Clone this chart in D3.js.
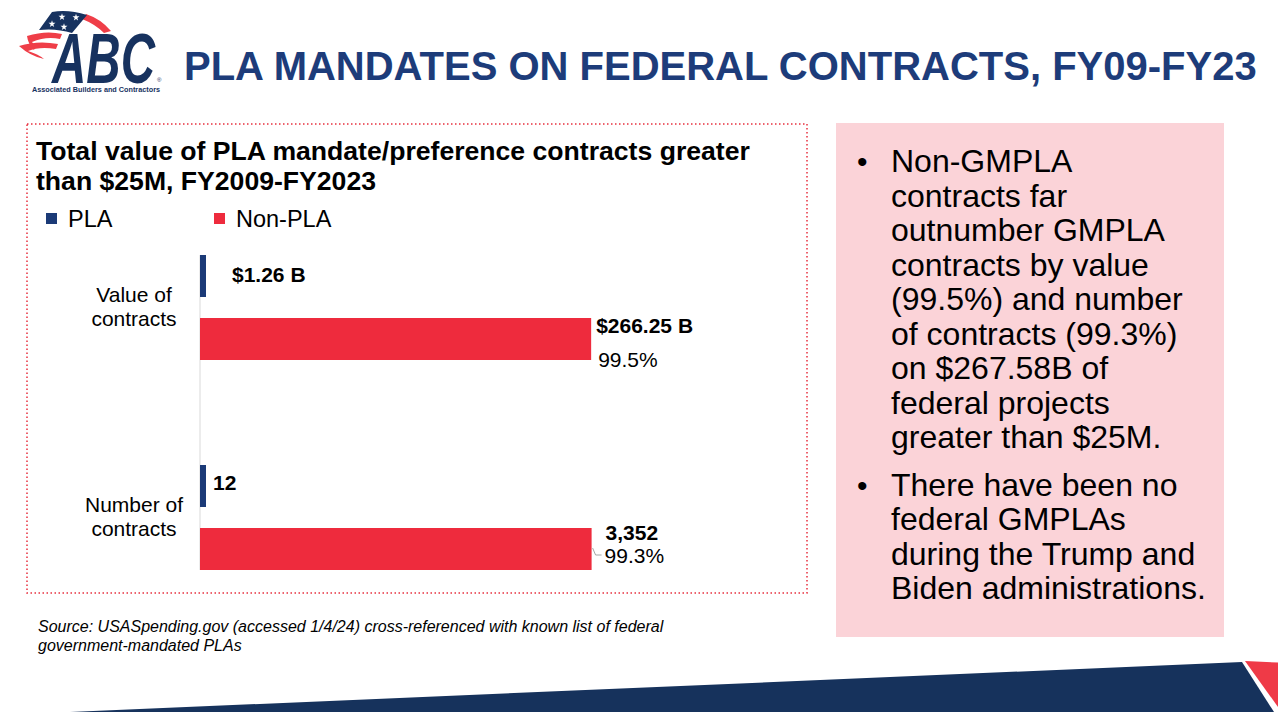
<!DOCTYPE html>
<html>
<head>
<meta charset="utf-8">
<script src="https://cdn.jsdelivr.net/npm/d3@7"></script>
<style>
  body { margin: 0; background: #fff; }
  svg { display: block; font-family: "Liberation Sans", Arial, sans-serif; }
</style>
</head>
<body>
<div id="slide"></div>
<script>
/* chart data */
var categories = ["Value of contracts", "Number of contracts"];
var categoryLines = [["Value of", "contracts"], ["Number of", "contracts"]];
var seriesNames = ["PLA", "Non-PLA"];
var plaValues = [1.26, 12];
var nonPlaValues = [266.25, 3352];
var plaLabels = ["$1.26 B", "12"];
var nonPlaLabels = ["$266.25 B", "3,352"];
var nonPlaShareLabels = ["99.5%", "99.3%"];

/* slide text */
var slideTitle = "PLA MANDATES ON FEDERAL CONTRACTS, FY09-FY23";
var chartTitle = ["Total value of PLA mandate/preference contracts greater", "than $25M, FY2009-FY2023"];
var bullets = [
    ["Non-GMPLA", "contracts far", "outnumber GMPLA", "contracts by value", "(99.5%) and number", "of contracts (99.3%)", "on $267.58B of", "federal projects", "greater than $25M."],
    ["There have been no", "federal GMPLAs", "during the Trump and", "Biden administrations."]
];
var sourceLines = ["Source: USASpending.gov (accessed 1/4/24) cross-referenced with known list of federal", "government-mandated PLAs"];

var width = 1278, height = 712;
var navy = "#1b3a77", red = "#ee2b3d", titleBlue = "#1d3c7a";
var colors = {"PLA": navy, "Non-PLA": red};

/* per-category label nudges (layout only) */
var labelNudge = [
    {plaDx: 26, plaDy: 6, valDx: 5, valDy: -6, shareDx: 7, shareDy: 28, leader: false},
    {plaDx: 7, plaDy: 4, valDx: 14, valDy: -9, shareDx: 13, shareDy: 14, leader: true}
];

var svg = d3.select("#slide").append("svg")
    .attr("width", width)
    .attr("height", height);

/* ---------- logo ---------- */
var logo = svg.append("g");
logo.append("path")
    .attr("d", "M86,14 Q101,19 111,31 L104,33 Q95,24 82,19 Z")
    .attr("fill", "#ef3e48");
logo.append("path")
    .attr("d", "M27,36 Q46,30 62,34 L60,39 Q46,36 32,42 Q36,46 34,50 Q28,44 27,36 Z")
    .attr("fill", "#ef3e48");
logo.append("path")
    .attr("d", "M19,46 Q38,40 58,44 L56,49 Q40,46 28,51 Q38,54 44,59 Q30,56 19,46 Z")
    .attr("fill", "#ef3e48");
logo.append("path")
    .attr("d", "M52,12 Q68,9 87,15 L72,33 Q56,28 39,30 Z")
    .attr("fill", "#17325f");
[[62, 17], [76, 17.5], [52, 24], [64, 27]].forEach(function(p) {
    logo.append("path")
        .attr("d", d3.symbol().type(d3.symbolStar).size(15)())
        .attr("transform", "translate(" + p[0] + "," + p[1] + ")")
        .attr("fill", "#fff");
});
logo.append("text")
    .attr("x", 52).attr("y", 83)
    .attr("font-size", 70)
    .attr("font-weight", "bold")
    .attr("font-style", "italic")
    .attr("textLength", 103)
    .attr("lengthAdjust", "spacingAndGlyphs")
    .attr("fill", "#17325f")
    .attr("stroke", "#fff")
    .attr("stroke-width", 1.5)
    .attr("paint-order", "stroke")
    .text("ABC");
logo.append("text")
    .attr("x", 157).attr("y", 82)
    .attr("font-size", 6)
    .attr("fill", "#17325f")
    .text("®");
logo.append("text")
    .attr("x", 32).attr("y", 91.5)
    .attr("font-size", 8)
    .attr("font-weight", "bold")
    .attr("textLength", 128)
    .attr("lengthAdjust", "spacingAndGlyphs")
    .attr("fill", "#17325f")
    .text("Associated Builders and Contractors");

/* ---------- slide title ---------- */
svg.append("text")
    .attr("x", 184).attr("y", 80)
    .attr("font-size", 40)
    .attr("font-weight", "bold")
    .attr("fill", titleBlue)
    .text(slideTitle);

/* ---------- chart frame ---------- */
svg.append("rect")
    .attr("x", 27).attr("y", 124)
    .attr("width", 780).attr("height", 469)
    .attr("fill", "none")
    .attr("stroke", "#e8303f")
    .attr("stroke-width", 1.5)
    .attr("stroke-dasharray", "1.5,2.5");

svg.append("g").selectAll("text")
    .data(chartTitle)
    .enter().append("text")
    .attr("x", 36)
    .attr("y", function(d, i) { return 160 + i * 30; })
    .attr("font-size", 26.6)
    .attr("font-weight", "bold")
    .attr("fill", "#000")
    .text(function(d) { return d; });

/* legend */
var legendX = [46, 214];
var legend = svg.append("g").selectAll("g")
    .data(seriesNames)
    .enter().append("g")
    .attr("transform", function(d, i) { return "translate(" + legendX[i] + ",213)"; });
legend.append("rect")
    .attr("width", 11).attr("height", 11)
    .attr("fill", function(d) { return colors[d]; });
legend.append("text")
    .attr("x", 22).attr("y", 14)
    .attr("font-size", 23.5)
    .attr("fill", "#000")
    .text(function(d) { return d; });

/* ---------- bar chart ---------- */
var rows = categories.map(function(c, i) {
    var total = plaValues[i] + nonPlaValues[i];
    return {
        category: c,
        lines: categoryLines[i],
        bars: [
            {series: "PLA", share: plaValues[i] / total, label: plaLabels[i]},
            {series: "Non-PLA", share: nonPlaValues[i] / total, label: nonPlaLabels[i], shareLabel: nonPlaShareLabels[i]}
        ],
        nudge: labelNudge[i]
    };
});

var x = d3.scaleLinear().domain([0, 1]).range([200, 593]);
var y = d3.scaleBand().domain(categories).range([202.5, 622.5]);
var yInner = d3.scaleBand().domain(seriesNames)
    .range([0, y.bandwidth()])
    .paddingInner(1 / 3)
    .paddingOuter(5 / 6);
var minBar = 6;
function barWidth(d) { return Math.max(x(d.share) - x(0), minBar); }

var chart = svg.append("g");

/* category axis line */
chart.append("line")
    .attr("x1", x(0)).attr("x2", x(0))
    .attr("y1", y(categories[0]) + yInner(seriesNames[0]))
    .attr("y2", y(categories[1]) + yInner(seriesNames[1]) + yInner.bandwidth())
    .attr("stroke", "#d9d9d9")
    .attr("stroke-width", 1);

var group = chart.selectAll(".row")
    .data(rows)
    .enter().append("g")
    .attr("class", "row")
    .attr("transform", function(d) { return "translate(0," + y(d.category) + ")"; });

/* category labels */
group.append("text")
    .attr("text-anchor", "middle")
    .attr("font-size", 21)
    .attr("fill", "#000")
    .selectAll("tspan")
    .data(function(d) { return d.lines; })
    .enter().append("tspan")
    .attr("x", 134)
    .attr("y", function(d, i) { return y.bandwidth() / 2 - 6 + i * 24.5; })
    .text(function(d) { return d; });

/* bars */
group.selectAll("rect")
    .data(function(d) { return d.bars; })
    .enter().append("rect")
    .attr("x", x(0))
    .attr("y", function(d) { return yInner(d.series); })
    .attr("width", barWidth)
    .attr("height", yInner.bandwidth())
    .attr("fill", function(d) { return colors[d.series]; });

/* value labels */
group.each(function(row) {
    var g = d3.select(this);
    var n = row.nudge;
    var pla = row.bars[0], non = row.bars[1];
    var plaMid = yInner(pla.series) + yInner.bandwidth() / 2;
    var nonMid = yInner(non.series) + yInner.bandwidth() / 2;
    var plaEnd = x(0) + barWidth(pla);
    var nonEnd = x(0) + barWidth(non);

    g.append("text")
        .attr("x", plaEnd + n.plaDx)
        .attr("y", plaMid + n.plaDy)
        .attr("font-size", 21)
        .attr("font-weight", "bold")
        .attr("fill", "#000")
        .text(pla.label);

    g.append("text")
        .attr("x", nonEnd + n.valDx)
        .attr("y", nonMid + n.valDy)
        .attr("font-size", 21)
        .attr("font-weight", "bold")
        .attr("fill", "#000")
        .text(non.label);

    g.append("text")
        .attr("x", nonEnd + n.shareDx)
        .attr("y", nonMid + n.shareDy)
        .attr("font-size", 21)
        .attr("fill", "#000")
        .text(non.shareLabel);

    if (n.leader) {
        g.append("polyline")
            .attr("points", [[nonEnd + 1, nonMid - 1], [nonEnd + 4, nonMid + 6], [nonEnd + 10, nonMid + 6]].join(" "))
            .attr("fill", "none")
            .attr("stroke", "#a6a6a6")
            .attr("stroke-width", 1);
    }
});

/* ---------- source ---------- */
svg.append("g").selectAll("text")
    .data(sourceLines)
    .enter().append("text")
    .attr("x", 38)
    .attr("y", function(d, i) { return 632 + i * 18.5; })
    .attr("font-size", 16)
    .attr("font-style", "italic")
    .attr("fill", "#000")
    .text(function(d) { return d; });

/* ---------- right-hand box ---------- */
svg.append("rect")
    .attr("x", 836).attr("y", 123)
    .attr("width", 388).attr("height", 514)
    .attr("fill", "#fbd3d8");

var lineH = 34.5, bulletGap = 13;
var bulletY = 172;
bullets.forEach(function(lines) {
    svg.append("text")
        .attr("x", 857).attr("y", bulletY)
        .attr("font-size", 30)
        .attr("fill", "#000")
        .text("•");
    svg.append("g").selectAll("text")
        .data(lines)
        .enter().append("text")
        .attr("x", 891)
        .attr("y", function(d, i) { return bulletY + i * lineH; })
        .attr("font-size", 32)
        .attr("fill", "#000")
        .text(function(d) { return d; });
    bulletY += lines.length * lineH + bulletGap;
});

/* ---------- bottom banner ---------- */
svg.append("path")
    .attr("d", "M70,712 L1242,662 L1274,712 Z")
    .attr("fill", "#16325c");
svg.append("path")
    .attr("d", "M1245,661 L1278,662.5 L1278,707 Z")
    .attr("fill", "#ef3a47");
</script>
</body>
</html>
